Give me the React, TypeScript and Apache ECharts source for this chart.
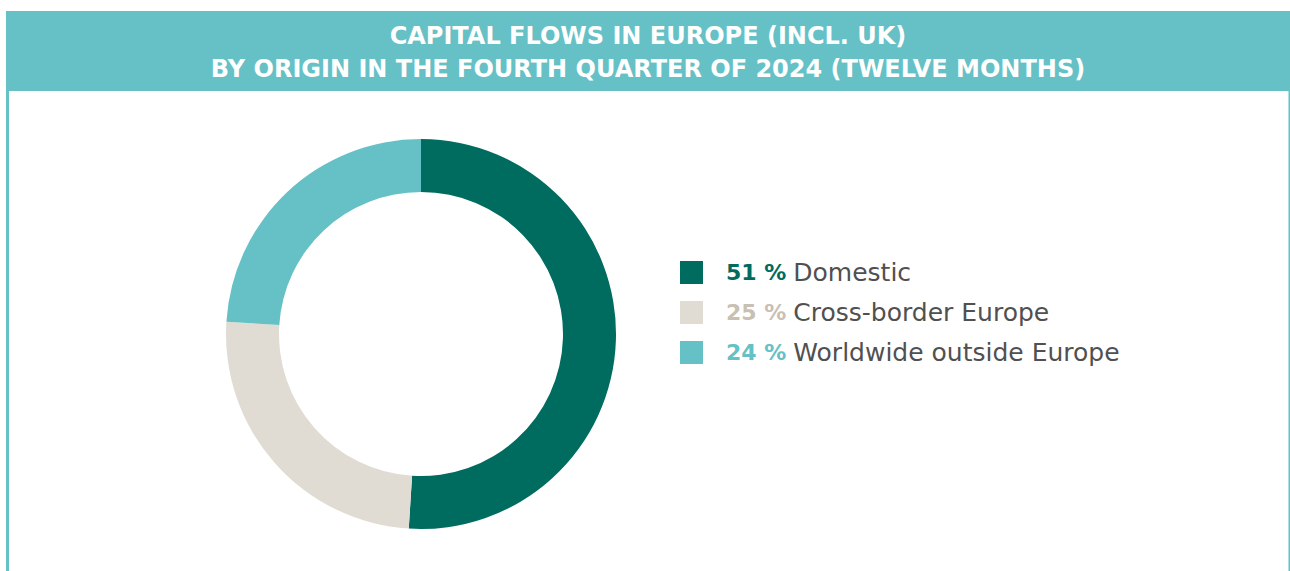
import React, { useEffect, useRef } from "react";
import * as echarts from "echarts";

const categories = ["Domestic", "Cross-border Europe", "Worldwide outside Europe"];
const values = [51, 25, 24];
const sliceColors = ["#006B5F", "#E0DCD3", "#65C1C6"];
const pctColors = ["#006B5F", "#C9BFB2", "#65C1C6"];
const titleLines = [
  "CAPITAL FLOWS IN EUROPE (INCL. UK)",
  "BY ORIGIN IN THE FOURTH QUARTER OF 2024 (TWELVE MONTHS)",
];

const FONT = "'DejaVu Sans', 'Noto Sans', sans-serif";

export default function App() {
  const ref = useRef<HTMLDivElement>(null);
  useEffect(() => {
    if (!ref.current) return;
    const chart = echarts.init(ref.current, null, { renderer: "svg" });
    const rich: Record<string, any> = {
      n: { fontSize: 25, color: "#505050", fontFamily: FONT },
    };
    pctColors.forEach((c, i) => {
      rich["p" + i] = {
        fontSize: 22,
        fontWeight: "bold",
        color: c,
        fontFamily: FONT,
        padding: [0, 0, 0, 18],
      };
    });
    chart.setOption({
      animation: false,
      title: {
        text: titleLines.join("\n"),
        left: 648,
        textAlign: "center",
        top: 19,
        padding: 0,
        textStyle: {
          color: "#ffffff",
          fontWeight: "bold",
          fontSize: 24,
          lineHeight: 33,
          fontFamily: FONT,
        },
      },
      graphic: [
        { type: "rect", z: -1, shape: { x: 6, y: 11, width: 1284, height: 80 }, style: { fill: "#65C1C6" } },
        { type: "rect", z: -1, shape: { x: 6, y: 90, width: 3, height: 481 }, style: { fill: "#65C1C6" } },
        { type: "rect", z: -1, shape: { x: 1288.5, y: 90, width: 1.5, height: 481 }, style: { fill: "#65C1C6" } },
      ],
      legend: {
        orient: "vertical",
        left: 680,
        top: 260,
        padding: 0,
        icon: "rect",
        itemWidth: 23,
        itemHeight: 23,
        itemGap: 15,
        selectedMode: false,
        data: categories,
        formatter: (name: string) => {
          const i = categories.indexOf(name);
          return `{p${i}|${values[i]} %} {n|${name}}`;
        },
        textStyle: { rich, fontFamily: FONT, fontSize: 22 },
      },
      series: [
        {
          type: "pie",
          center: [421, 334],
          radius: [142, 195],
          startAngle: 90,
          clockwise: true,
          label: { show: false },
          labelLine: { show: false },
          emphasis: { disabled: true },
          silent: true,
          itemStyle: { borderWidth: 0 },
          data: categories.map((name, i) => ({
            name,
            value: values[i],
            itemStyle: { color: sliceColors[i] },
          })),
        },
      ],
    });
    return () => chart.dispose();
  }, []);
  return (
    <div
      ref={ref}
      style={{ position: "fixed", left: 0, top: 0, width: 1290, height: 571, background: "#fff" }}
    />
  );
}
